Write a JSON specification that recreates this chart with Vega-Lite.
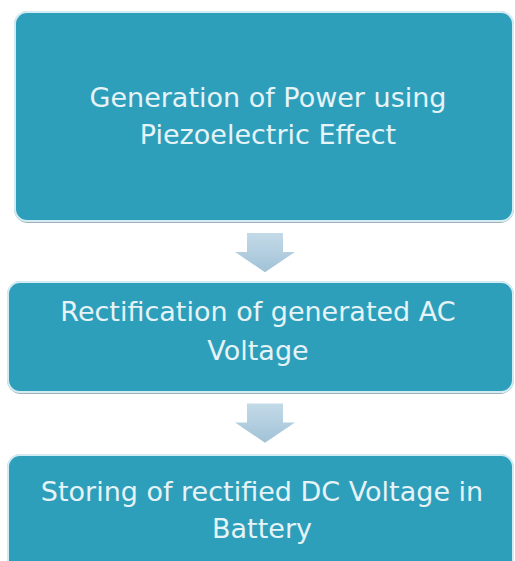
{
  "$schema": "https://vega.github.io/schema/vega-lite/v6.json",
  "width": 515,
  "height": 561,
  "autosize": {"type": "none"},
  "padding": 0,
  "background": "#ffffff",
  "config": {"view": {"stroke": null}},
  "datasets": {
    "boxes": [
      {"step": "Generation", "x": 15, "x2": 513, "y": 12, "y2": 221},
      {"step": "Rectification", "x": 8, "x2": 513, "y": 282, "y2": 392},
      {"step": "Storing", "x": 8, "x2": 513, "y": 455, "y2": 575}
    ],
    "arrows": [
      {"arrow": 1, "x": 265, "y": 252.5},
      {"arrow": 2, "x": 265, "y": 423}
    ],
    "labels": [
      {"text": "Generation of Power using", "x": 268, "y": 107},
      {"text": "Piezoelectric Effect", "x": 268, "y": 144},
      {"text": "Rectification of generated AC", "x": 258, "y": 321},
      {"text": "Voltage", "x": 258, "y": 360},
      {"text": "Storing of rectified DC Voltage in", "x": 262, "y": 501},
      {"text": "Battery", "x": 262, "y": 538}
    ]
  },
  "layer": [
    {
      "data": {"name": "boxes"},
      "mark": {"type": "rect", "fill": "#9fb0b6", "cornerRadius": 14, "xOffset": -1, "x2Offset": 1, "yOffset": -1, "y2Offset": 2},
      "encoding": {
        "x": {"field": "x", "type": "quantitative", "scale": {"domain": [0, 515], "nice": false, "zero": false}, "axis": null},
        "x2": {"field": "x2"},
        "y": {"field": "y", "type": "quantitative", "scale": {"domain": [0, 561], "nice": false, "zero": false, "reverse": true}, "axis": null},
        "y2": {"field": "y2"}
      }
    },
    {
      "data": {"name": "boxes"},
      "mark": {"type": "rect", "fill": "#2e9fbb", "stroke": "#d3ebf2", "strokeWidth": 2, "cornerRadius": 12},
      "encoding": {
        "x": {"field": "x", "type": "quantitative"},
        "x2": {"field": "x2"},
        "y": {"field": "y", "type": "quantitative"},
        "y2": {"field": "y2"}
      }
    },
    {
      "data": {"name": "arrows"},
      "mark": {
        "type": "point",
        "filled": true,
        "opacity": 1,
        "size": 3600,
        "strokeWidth": 0,
        "shape": "M-0.6,-0.65L0.6,-0.65L0.6,-0.02L1,-0.02L0,0.66L-1,-0.02L-0.6,-0.02Z",
        "fill": {
          "gradient": "linear", "x1": 0, "y1": 0, "x2": 0, "y2": 1,
          "stops": [{"offset": 0, "color": "#c3dae8"}, {"offset": 1, "color": "#a2c2d7"}]
        }
      },
      "encoding": {
        "x": {"field": "x", "type": "quantitative"},
        "y": {"field": "y", "type": "quantitative"}
      }
    },
    {
      "data": {"name": "labels"},
      "mark": {"type": "text", "font": "DejaVu Sans", "fontSize": 27, "fill": "#e6f3f7", "align": "center", "baseline": "alphabetic"},
      "encoding": {
        "x": {"field": "x", "type": "quantitative"},
        "y": {"field": "y", "type": "quantitative"},
        "text": {"field": "text"}
      }
    }
  ]
}
